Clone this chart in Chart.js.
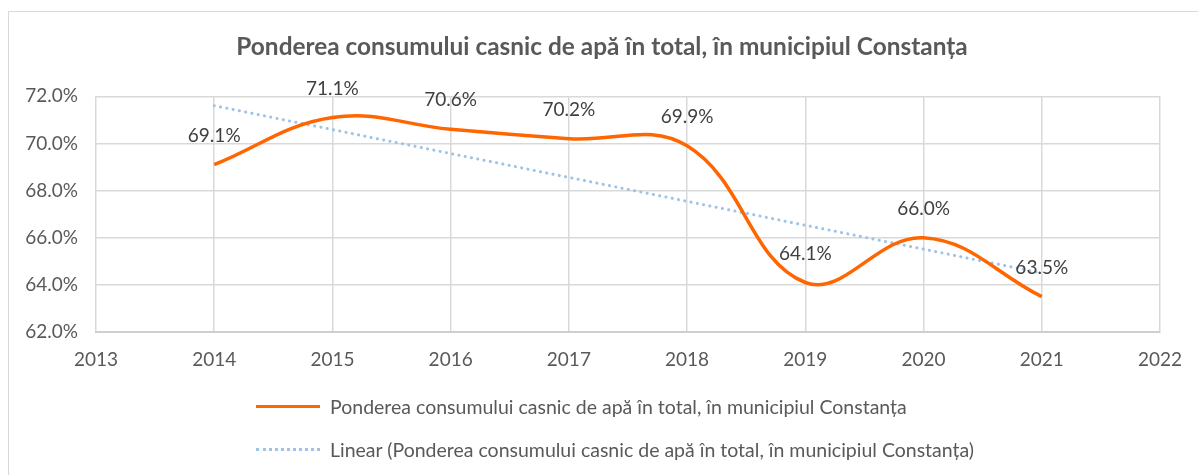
<!DOCTYPE html>
<html>
<head>
<meta charset="utf-8">
<script src="https://cdn.jsdelivr.net/npm/chart.js@4/dist/chart.umd.min.js"></script>
<style>
  html, body { margin: 0; padding: 0; background: #fff; }
  #wrap { position: relative; width: 1198px; height: 475px; overflow: hidden; }
  #frame { position: absolute; left: 8px; top: 11px; width: 1200px; height: 480px; border: 1.5px solid #d9d9d9; box-sizing: border-box; }
  #c { position: absolute; left: 0; top: 0; }
  .leg { position: absolute; left: 256px; font-family: Lato, sans-serif; font-size: 19.5px; color: #595959; white-space: nowrap; display: flex; align-items: center; }
  .leg .s { width: 64px; height: 0; margin-right: 10px; }
</style>
</head>
<body>
<div id="wrap">
  <div id="frame"></div>
  <canvas id="c" width="1198" height="475"></canvas>
  <div class="leg" style="top:395px"><span class="s" style="border-top:3.5px solid #FF6600"></span><span id="l1"></span></div>
  <div class="leg" style="top:438px"><span class="s" style="border-top:3px dotted #9DC3E6"></span><span id="l2"></span></div>
</div>
<script>
const title = "Ponderea consumului casnic de apă în total, în municipiul Constanța";
const seriesName = "Ponderea consumului casnic de apă în total, în municipiul Constanța";
const trendName = "Linear (Ponderea consumului casnic de apă în total, în municipiul Constanța)";
const years = [2014, 2015, 2016, 2017, 2018, 2019, 2020, 2021];
const shares = [69.1, 71.1, 70.6, 70.2, 69.9, 64.1, 66.0, 63.5];
const trendYears = [2014, 2021];
const trendValues = [71.6, 64.5];
const xMin = 2013, xMax = 2022;
const yMin = 62, yMax = 72, yStep = 2;

document.getElementById('l1').textContent = seriesName;
document.getElementById('l2').textContent = trendName;

const FONT = 'Lato, sans-serif';
const labelPlugin = {
  id: 'valueLabels',
  afterDatasetsDraw(chart) {
    const ctx = chart.ctx;
    const meta = chart.getDatasetMeta(0);
    ctx.save();
    ctx.font = '19px ' + FONT;
    ctx.fillStyle = '#404040';
    ctx.textAlign = 'center';
    ctx.textBaseline = 'middle';
    meta.data.forEach((pt, i) => {
      ctx.fillText(shares[i].toFixed(1) + '%', pt.x, pt.y - 29);
    });
    ctx.restore();
  }
};

new Chart(document.getElementById('c'), {
  type: 'line',
  data: {
    datasets: [
      {
        label: seriesName,
        data: years.map((x, i) => ({ x, y: shares[i] })),
        borderColor: '#FF6600',
        borderWidth: 3.5,
        pointRadius: 0,
        tension: 0.4,
        fill: false
      },
      {
        label: trendName,
        data: trendYears.map((x, i) => ({ x, y: trendValues[i] })),
        borderColor: '#9DC3E6',
        borderWidth: 3,
        borderDash: [0.1, 6.3],
        borderCapStyle: 'round',
        pointRadius: 0,
        fill: false
      }
    ]
  },
  options: {
    responsive: false,
    animation: false,
    devicePixelRatio: 1,
    layout: { padding: { left: 26, right: 20, top: 0, bottom: 104 } },
    plugins: {
      legend: { display: false },
      tooltip: { enabled: false },
      title: {
        display: true,
        text: title,
        color: '#595959',
        font: { family: FONT, size: 24.4, weight: 'bold' },
        padding: { top: 33, bottom: 34 }
      }
    },
    scales: {
      x: {
        type: 'linear',
        min: xMin, max: xMax,
        afterFit: s => { s.height = 39; },
        ticks: { stepSize: 1, color: '#595959', font: { family: FONT, size: 19 }, padding: 16, callback: v => String(v) },
        grid: { color: '#d9d9d9', lineWidth: 1.5, drawTicks: false },
        border: { color: '#cfcfcf', width: 2 }
      },
      y: {
        min: yMin, max: yMax,
        afterFit: s => { s.width = 70; },
        ticks: { stepSize: yStep, color: '#595959', font: { family: FONT, size: 19 }, padding: 18, callback: v => v.toFixed(1) + '%' },
        grid: { color: '#d9d9d9', lineWidth: 1.5, drawTicks: false },
        border: { display: false }
      }
    }
  },
  plugins: [labelPlugin]
});
</script>
</body>
</html>
